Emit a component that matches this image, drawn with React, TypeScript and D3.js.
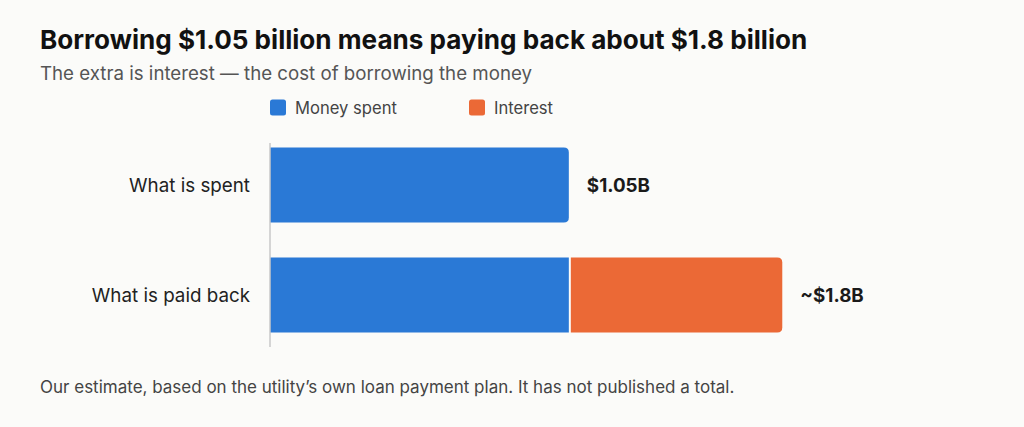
import React, { useRef, useEffect } from 'react';
import * as d3 from 'd3';

// Chart data
const categories = ['What is spent', 'What is paid back'];
const moneySpent = [1.05, 1.05];
const interest = [0, 0.75];
const totalLabels = ['$1.05B', '~$1.8B'];
const legendItems = [
  { key: 'spent', label: 'Money spent', color: '#2a79d6' },
  { key: 'interest', label: 'Interest', color: '#eb6936' },
];

const title = 'Borrowing $1.05 billion means paying back about $1.8 billion';
const subtitle = 'The extra is interest \u2014 the cost of borrowing the money';
const footnote = 'Our estimate, based on the utility\u2019s own loan payment plan. It has not published a total.';

const WIDTH = 1024;
const HEIGHT = 427;
const FONT = 'Inter, "Helvetica Neue", Arial, sans-serif';

// Bar with only the right side rounded
function rightRoundedRect(x: number, y: number, w: number, h: number, r: number) {
  const rr = Math.min(r, w / 2, h / 2);
  return `M${x},${y}H${x + w - rr}Q${x + w},${y} ${x + w},${y + rr}V${y + h - rr}Q${x + w},${y + h} ${x + w - rr},${y + h}H${x}Z`;
}

const App: React.FC = () => {
  const svgRef = useRef<SVGSVGElement>(null);

  useEffect(() => {
    if (!svgRef.current) return;
    const svg = d3.select(svgRef.current);
    svg.selectAll('*').remove();

    svg.append('rect')
      .attr('width', WIDTH)
      .attr('height', HEIGHT)
      .attr('fill', '#fbfbf9');

    // Scales
    const xScale = d3.scaleLinear().domain([0, 2]).range([270, 839.2]);
    const yScale = d3.scaleBand<string>()
      .domain(categories)
      .range([130, 350])
      .paddingInner(0.32)
      .paddingOuter(0.16);

    // Title block
    svg.append('text')
      .attr('x', 40)
      .attr('y', 48.5)
      .style('font-family', FONT)
      .style('font-size', '26.1px')
      .style('font-weight', 700)
      .style('fill', '#111')
      .text(title);

    svg.append('text')
      .attr('x', 40)
      .attr('y', 80)
      .style('font-family', FONT)
      .style('font-size', '18.7px')
      .style('fill', '#555')
      .text(subtitle);

    // Legend
    const legend = svg.selectAll('.legend')
      .data(legendItems)
      .enter().append('g')
      .attr('class', 'legend')
      .attr('transform', (_d, i) => `translate(${270 + i * 199}, 99.5)`);

    legend.append('rect')
      .attr('width', 16)
      .attr('height', 16)
      .attr('rx', 2.5)
      .attr('fill', d => d.color);

    legend.append('text')
      .attr('x', 25)
      .attr('y', 14.5)
      .style('font-family', FONT)
      .style('font-size', '16.6px')
      .style('fill', '#444')
      .text(d => d.label);

    // Bars
    const bw = yScale.bandwidth();
    categories.forEach((cat, i) => {
      const y = yScale(cat) as number;
      const x0 = xScale(0);
      const x1 = xScale(moneySpent[i]);
      const x2 = xScale(moneySpent[i] + interest[i]);
      const hasInterest = interest[i] > 0;

      svg.append('path')
        .attr('d', hasInterest
          ? `M${x0},${y}H${x1}V${y + bw}H${x0}Z`
          : rightRoundedRect(x0, y, x1 - x0, bw, 5))
        .attr('fill', legendItems[0].color);

      if (hasInterest) {
        svg.append('path')
          .attr('d', rightRoundedRect(x1 + 2, y, x2 - x1 - 2, bw, 5))
          .attr('fill', legendItems[1].color);
      }

      // Category label
      svg.append('text')
        .attr('x', 250)
        .attr('y', y + bw / 2)
        .attr('dy', '0.36em')
        .attr('text-anchor', 'end')
        .style('font-family', FONT)
        .style('font-size', '18.8px')
        .style('fill', '#222')
        .text(cat);

      // Total label
      svg.append('text')
        .attr('x', x2 + 18)
        .attr('y', y + bw / 2)
        .attr('dy', '0.36em')
        .style('font-family', FONT)
        .style('font-size', '18.8px')
        .style('font-weight', 700)
        .style('fill', '#1a1a1a')
        .text(totalLabels[i]);
    });

    // Baseline at zero
    svg.append('line')
      .attr('x1', xScale(0))
      .attr('x2', xScale(0))
      .attr('y1', 143)
      .attr('y2', 347)
      .attr('stroke', '#c8c8c8')
      .attr('stroke-width', 1.5);

    // Footnote
    svg.append('text')
      .attr('x', 40)
      .attr('y', 393)
      .style('font-family', FONT)
      .style('font-size', '17px')
      .style('fill', '#444')
      .text(footnote);
  }, []);

  return (
    <div style={{ position: 'fixed', left: 0, top: 0, width: WIDTH, height: HEIGHT, background: '#fbfbf9' }}>
      <svg ref={svgRef} width={WIDTH} height={HEIGHT} viewBox={`0 0 ${WIDTH} ${HEIGHT}`} style={{ display: 'block' }} />
    </div>
  );
};

export default App;
